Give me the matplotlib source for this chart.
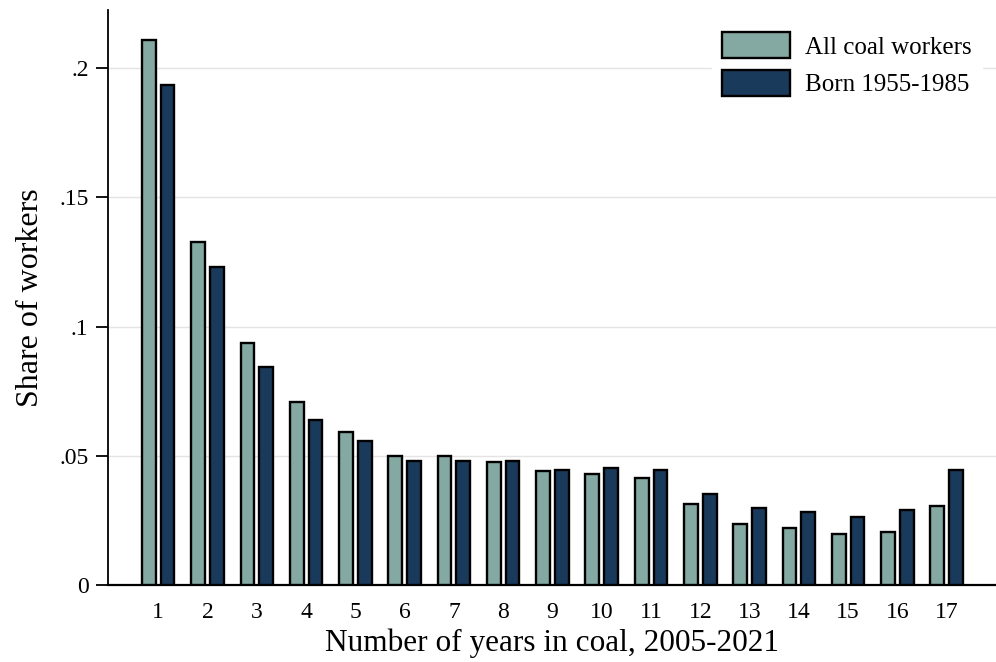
import numpy as np
import matplotlib.pyplot as plt

plt.rcParams['font.family'] = ['Liberation Serif', 'DejaVu Serif']

years = np.arange(1, 18)
all_workers = [0.2108, 0.1327, 0.0936, 0.0708, 0.0592, 0.0499, 0.0499, 0.0476,
               0.0441, 0.0429, 0.0414, 0.0313, 0.0236, 0.0220, 0.0197, 0.0205, 0.0306]
born_55_85 = [0.1934, 0.1230, 0.0843, 0.0638, 0.0557, 0.0480, 0.0480, 0.0480,
              0.0445, 0.0453, 0.0445, 0.0352, 0.0298, 0.0282, 0.0263, 0.0290, 0.0445]
yticks = [0, 0.05, 0.1, 0.15, 0.2]
ytick_labels = ['0', '.05', '.1', '.15', '.2']

green = '#84a9a3'
navy = '#1a3a5c'

fig = plt.figure(figsize=(9.96, 6.62), dpi=100)
ax = fig.add_axes([0.1084, 0.1163, 0.8916, 0.8686])

w = 0.28
off = 0.19
ax.bar(years - off, all_workers, width=w, color=green, edgecolor='black',
       linewidth=1.7, label='All coal workers', zorder=3)
ax.bar(years + off, born_55_85, width=w, color=navy, edgecolor='black',
       linewidth=1.7, label='Born 1955-1985', zorder=3)

ax.set_xlim(-0.02, 18.0)
ax.set_ylim(0, 0.2225)
ax.set_xticks(years)
ax.set_xticklabels([str(y) for y in years], fontsize=17)
ax.set_yticks(yticks)
ax.set_yticklabels(ytick_labels, fontsize=17)
ax.tick_params(axis='x', length=0, pad=12)
ax.tick_params(axis='y', length=9, width=1.3, pad=5)

ax.grid(axis='y', color='#e4e4e4', linewidth=1.0, zorder=0)
for side in ['top', 'right']:
    ax.spines[side].set_visible(False)
ax.spines['left'].set_linewidth(1.3)
ax.spines['bottom'].set_linewidth(1.6)

ax.set_xlabel('Number of years in coal, 2005-2021', fontsize=22.5, labelpad=4)
ax.set_ylabel('Share of workers', fontsize=23, labelpad=10)

leg = ax.legend(loc='upper right', bbox_to_anchor=(0.998, 0.985),
                bbox_transform=fig.transFigure, fontsize=18, frameon=True,
                fancybox=False, edgecolor='white', framealpha=1.0,
                handlelength=2.7, handleheight=1.2, labelspacing=0.45,
                handletextpad=0.6, borderpad=0.4)
for p in leg.get_patches():
    p.set_linewidth(1.7)

fig.savefig('out.png', dpi=100)
